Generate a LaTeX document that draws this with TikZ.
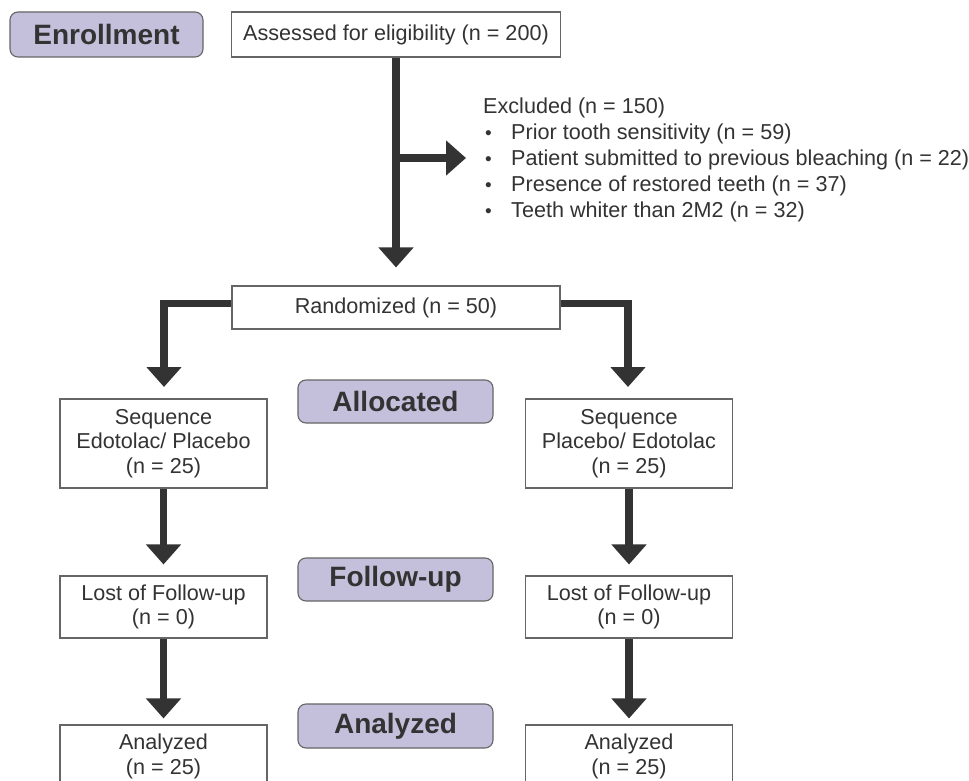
\documentclass[tikz,border=0pt]{standalone}
\usepackage{fontspec}
\setmainfont{Liberation Sans}
\usetikzlibrary{arrows.meta}
\definecolor{ink}{HTML}{333333}
\definecolor{lav}{HTML}{C4C0DC}
\definecolor{edgegray}{HTML}{666666}
\newcommand{\bul}{\makebox[28pt][l]{\hspace{2pt}\raisebox{0.5pt}{\fontsize{19}{19}\selectfont •}}}
\begin{document}
\begin{tikzpicture}[x=1pt,y=-1pt,
 box/.style={draw=edgegray, line width=1.1pt, fill=white, text=ink, align=center, inner sep=0pt, font=\fontsize{21.6}{24.5}\selectfont},
 lbl/.style={draw=edgegray, line width=1.1pt, fill=lav, rounded corners=8pt, text=ink, inner sep=0pt, minimum width=195pt, minimum height=43pt, font=\fontsize{28}{30}\selectfont\bfseries},
 arr/.style={draw=ink, line width=7.5pt, -{Triangle[width=34pt,length=20pt]}},
 txt/.style={text=ink, inner sep=0pt, anchor=base west, font=\fontsize{21.6}{26}\selectfont},
]
\useasboundingbox (0,0) rectangle (969,781);
\clip (0,0) rectangle (969,781);
\fill[white] (0,0) rectangle (969,781);

% phase labels
\node[lbl, minimum width=193pt, minimum height=45pt] (enroll) at (106.5,34.5) {Enrollment};
\node[lbl] (alloc) at (395.5,401.5) {Allocated};
\node[lbl] (follow) at (395.5,579.5) {Follow-up};
\node[lbl, minimum height=44pt] (analab) at (395.5,726) {Analyzed};

% boxes
\node[box, minimum width=329pt, minimum height=45pt] (assess) at (396,34.5) {Assessed for eligibility (n = 200)};
\node[box, minimum width=328pt, minimum height=43pt] (rand) at (396,307.5) {Randomized (n = 50)};
\node[box, minimum width=207pt, minimum height=89pt] (seqL) at (163.5,443.5) {Sequence\\Edotolac/ Placebo\\(n = 25)};
\node[box, minimum width=207pt, minimum height=89pt] (seqR) at (629,443.5) {Sequence\\Placebo/ Edotolac\\(n = 25)};
\node[box, minimum width=207pt, minimum height=62pt] (lostL) at (163.5,607) {Lost of Follow-up\\(n = 0)};
\node[box, minimum width=207pt, minimum height=62pt] (lostR) at (629,607) {Lost of Follow-up\\(n = 0)};
\node[box, minimum width=207pt, minimum height=63pt] (anaL) at (163.5,756.5) {Analyzed\\(n = 25)};
\node[box, minimum width=207pt, minimum height=63pt] (anaR) at (629,756.5) {Analyzed\\(n = 25)};

% excluded list
\node[txt] (ex0) at (483,114) {Excluded (n = 150)};
\node[txt] (ex1) at (483,139.5) {\bul Prior tooth sensitivity (n = 59)};
\node[txt] (ex2) at (483,165.5) {\bul Patient submitted to previous bleaching (n = 22)};
\node[txt] (ex3) at (483,191.5) {\bul Presence of restored teeth (n = 37)};
\node[txt] (ex4) at (483,217.5) {\bul Teeth whiter than 2M2 (n = 32)};

% connectors
\coordinate (br) at (396,158);
\coordinate (brtip) at (466,158);
\coordinate (tipL) at (164,387);
\coordinate (tipR) at (628,387);
\draw[arr] (assess.south) -- ([yshift=18pt]rand.north);
\draw[arr] (br) -- (brtip);
\draw[arr] ([yshift=4pt]rand.west) -| (tipL);
\draw[arr] ([yshift=4pt]rand.east) -| (tipR);
\draw[arr] (seqL.south) -- ([yshift=11pt]lostL.north);
\draw[arr] (seqR.south) -- ([yshift=11pt]lostR.north);
\draw[arr] (lostL.south) -- ([yshift=6pt]anaL.north);
\draw[arr] (lostR.south) -- ([yshift=6pt]anaR.north);
\end{tikzpicture}
\end{document}
